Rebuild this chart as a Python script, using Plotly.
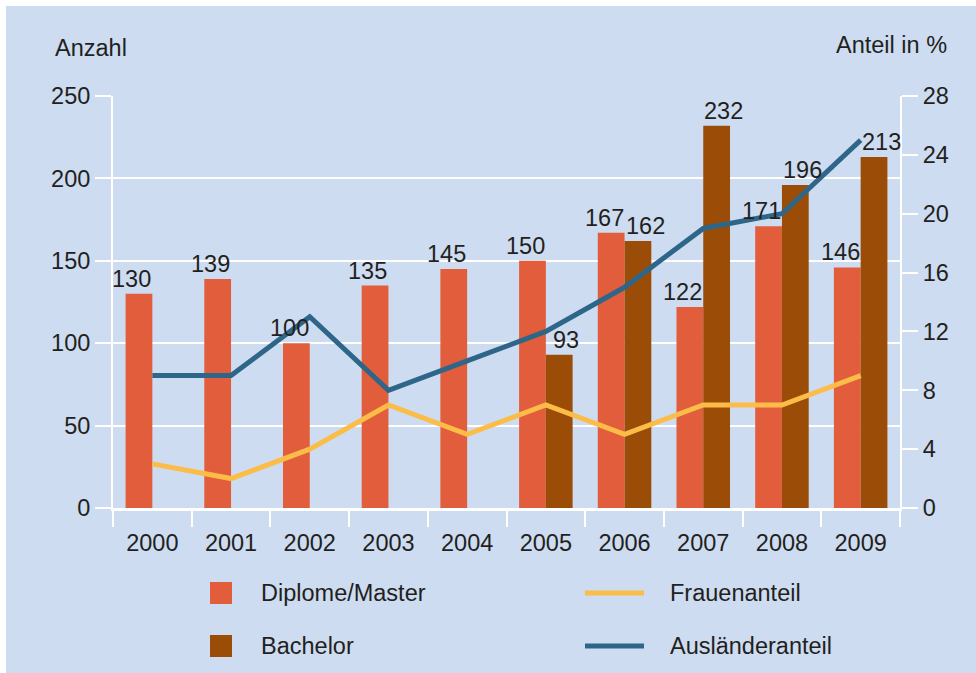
import plotly.graph_objects as go

# Absolventen je Jahr und Anteile
years = ["2000", "2001", "2002", "2003", "2004", "2005", "2006", "2007", "2008", "2009"]
diplom_master = [130, 139, 100, 135, 145, 150, 167, 122, 171, 146]
bachelor = [None, None, None, None, None, 93, 162, 232, 196, 213]
frauenanteil = [3, 2, 4, 7, 5, 7, 5, 7, 7, 9]
auslaenderanteil = [9, 9, 13, 8, 10, 12, 15, 19, 20, 25]

left_ticks = [0, 50, 100, 150, 200, 250]
right_ticks = [0, 4, 8, 12, 16, 20, 24, 28]

BG = "#cddcf0"
C_DIPLOM = "#e25d3b"
C_BACH = "#9b4d07"
C_FRAU = "#fbbd48"
C_AUSL = "#2e6689"
TXT = "#231f20"
FONT = "Liberation Sans, Arial, Helvetica, sans-serif"
FS = 23.5

W, H = 976, 673
L, R, T, B = 113, 900, 96, 508


def px(x):
    return (x - L) / (R - L)


def py(y):
    return (B - y) / (B - T)


fig = go.Figure()
fig.add_trace(go.Bar(x=years, y=diplom_master, name="Diplome/Master",
                     marker=dict(color=C_DIPLOM, line=dict(width=0)), showlegend=False))
fig.add_trace(go.Bar(x=years, y=bachelor, name="Bachelor",
                     marker=dict(color=C_BACH, line=dict(width=0)), showlegend=False))
fig.add_trace(go.Scatter(x=years, y=frauenanteil, name="Frauenanteil", yaxis="y2",
                         mode="lines", line=dict(color=C_FRAU, width=5), showlegend=False))
fig.add_trace(go.Scatter(x=years, y=auslaenderanteil, name="Ausländeranteil", yaxis="y2",
                         mode="lines", line=dict(color=C_AUSL, width=5), showlegend=False))

annotations = []
# value labels above the bars (x given as category index)
for i, v in enumerate(diplom_master):
    annotations.append(dict(x=i, y=v, xref="x", yref="y", text=str(v), showarrow=False,
                            xanchor="center", yanchor="bottom", xshift=-20.5,
                            font=dict(family=FONT, size=FS, color=TXT)))
for i, v in enumerate(bachelor):
    if v is None:
        continue
    annotations.append(dict(x=i, y=v, xref="x", yref="y", text=str(v), showarrow=False,
                            xanchor="center", yanchor="bottom", xshift=20.5,
                            font=dict(family=FONT, size=FS, color=TXT)))

# axis captions
annotations.append(dict(x=px(53), y=py(48), xref="paper", yref="paper", text="Anzahl",
                        showarrow=False, xanchor="left", yanchor="middle",
                        font=dict(family=FONT, size=FS, color=TXT)))
annotations.append(dict(x=px(949), y=py(45), xref="paper", yref="paper", text="Anteil in %",
                        showarrow=False, xanchor="right", yanchor="middle",
                        font=dict(family=FONT, size=FS, color=TXT)))

shapes = [
    # white frame strips along top and left edge
    dict(type="rect", xref="paper", yref="paper", x0=px(0), x1=px(W), y0=py(6), y1=py(0),
         fillcolor="white", line=dict(width=0), layer="below"),
    dict(type="rect", xref="paper", yref="paper", x0=px(0), x1=px(6), y0=py(H), y1=py(0),
         fillcolor="white", line=dict(width=0), layer="below"),
]

# legend
legend_items = [
    ("Diplome/Master", "box", C_DIPLOM, 210, 593),
    ("Bachelor", "box", C_BACH, 210, 646),
    ("Frauenanteil", "line", C_FRAU, 585, 593),
    ("Ausländeranteil", "line", C_AUSL, 585, 646),
]
for label, kind, col, x0, yc in legend_items:
    if kind == "box":
        shapes.append(dict(type="rect", xref="paper", yref="paper",
                           x0=px(x0), x1=px(x0 + 22), y0=py(yc + 11), y1=py(yc - 11),
                           fillcolor=col, line=dict(width=0)))
        tx = 259
    else:
        shapes.append(dict(type="line", xref="paper", yref="paper",
                           x0=px(x0), x1=px(x0 + 59), y0=py(yc), y1=py(yc),
                           line=dict(color=col, width=5)))
        tx = 668
    annotations.append(dict(x=px(tx), y=py(yc), xref="paper", yref="paper", text=label,
                            showarrow=False, xanchor="left", yanchor="middle",
                            font=dict(family=FONT, size=FS, color=TXT)))

fig.update_layout(
    width=W, height=H,
    margin=dict(l=L, r=W - R, t=T, b=H - B, pad=0),
    paper_bgcolor=BG, plot_bgcolor=BG,
    barmode="group", bargap=0.32, bargroupgap=0,
    font=dict(family=FONT, size=FS, color=TXT),
    xaxis=dict(type="category", categoryorder="array", categoryarray=years,
               range=[-0.5, len(years) - 0.5], autorange=False,
               showgrid=False, tickson="boundaries", ticks="outside", ticklen=16,
               tickwidth=2, tickcolor="white", showline=True, linecolor="white",
               linewidth=3, tickangle=0, tickfont=dict(family=FONT, size=FS, color=TXT),
               ticklabelstandoff=12),
    yaxis=dict(range=[0, 250], tickvals=left_ticks, showgrid=True, gridcolor="white",
               gridwidth=1.5, zeroline=False, ticks="outside", ticklen=16, tickwidth=2,
               tickcolor="white", showline=True, linecolor="white", linewidth=2,
               tickfont=dict(family=FONT, size=FS, color=TXT)),
    yaxis2=dict(range=[0, 28], tickvals=right_ticks, overlaying="y", side="right",
                showgrid=False, zeroline=False, ticks="outside", ticklen=16, tickwidth=2,
                tickcolor="white", showline=True, linecolor="white", linewidth=2,
                tickfont=dict(family=FONT, size=FS, color=TXT)),
    annotations=annotations,
    shapes=shapes,
    showlegend=False,
)

fig.write_html("out.html")
